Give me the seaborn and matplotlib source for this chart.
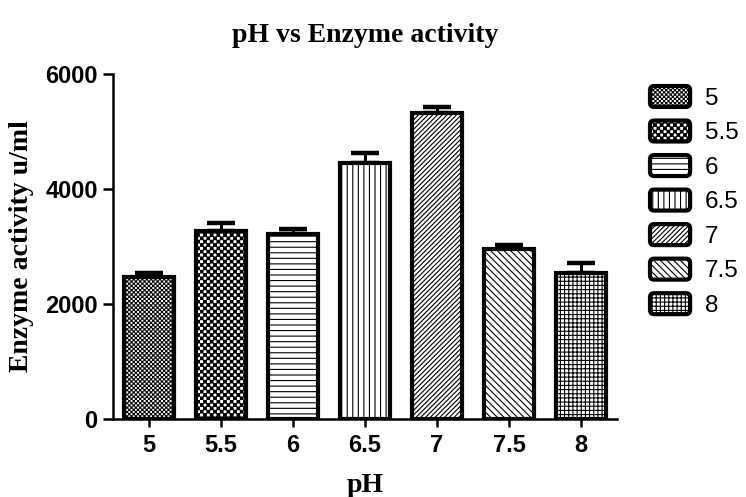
import warnings
warnings.simplefilter("ignore")
import numpy as np
import matplotlib
matplotlib.use("Agg")
import matplotlib.pyplot as plt
import matplotlib.hatch as mhatch
from matplotlib.path import Path
from matplotlib.patches import FancyBboxPatch, Rectangle
from matplotlib.legend_handler import HandlerPatch
from matplotlib.font_manager import FontProperties
import seaborn as sns

# ---- data ----
ph_labels = ["5", "5.5", "6", "6.5", "7", "7.5", "8"]
activity = [2470, 3270, 3215, 4450, 5320, 2955, 2540]
activity_err = [70, 140, 85, 175, 100, 70, 170]
y_ticks = [0, 2000, 4000, 6000]
hatches = ["k", "c", "---", "|||", "///////", "\\\\\\\\\\", "++++"]


# ---- custom checkerboard hatch ('c' coarse, 'k' fine) ----
class _Checker(mhatch.HatchPatternBase):
    def __init__(self, hatch, density):
        self.n = 0
        self.e = 0.0035
        if "c" in hatch:
            self.n = 30
        elif "k" in hatch:
            self.n = 46
            self.e = 0.0045
        self.num_vertices = (self.n * self.n // 2) * 5

    def set_vertices_and_codes(self, vertices, codes):
        n = self.n
        s = 1.0 / n
        e = self.e
        k = 0
        for i in range(n):
            for j in range(n):
                if (i + j) % 2 == 0:
                    x0, y0 = i * s + e, j * s + e
                    x1, y1 = (i + 1) * s - e, (j + 1) * s - e
                    vertices[k:k + 5] = [(x0, y0), (x1, y0), (x1, y1), (x0, y1), (x0, y0)]
                    codes[k:k + 5] = [Path.MOVETO, Path.LINETO, Path.LINETO,
                                      Path.LINETO, Path.CLOSEPOLY]
                    k += 5


mhatch._hatch_types.append(_Checker)

sns.set_style("ticks")
plt.rcParams["hatch.linewidth"] = 0.8
plt.rcParams["font.family"] = ["Liberation Sans", "DejaVu Sans"]
plt.rcParams["text.color"] = "black"
plt.rcParams["axes.labelcolor"] = "black"
plt.rcParams["axes.titlecolor"] = "black"

fig = plt.figure(figsize=(7.46, 4.97), dpi=100)
ax = fig.add_axes([113 / 746, 78 / 497, 504 / 746, 345 / 497])

sns.barplot(x=ph_labels, y=activity, color="white", saturation=1,
            edgecolor="black", linewidth=3, width=0.70, ax=ax, zorder=3)

bars = ax.patches[:len(ph_labels)]
for p, h in zip(bars, hatches):
    p.set_hatch(h)
    p.set_facecolor("white")
    p.set_edgecolor("black")

xpos = [p.get_x() + p.get_width() / 2 for p in bars]
ax.errorbar(xpos, activity, yerr=[np.zeros(len(activity)), activity_err],
            fmt="none", ecolor="black", elinewidth=2.2, capsize=10, capthick=3.2,
            zorder=2)

ax.set_xlim(-0.5, 6.5)
ax.set_ylim(0, 6000)
ax.set_yticks(y_ticks)
sns.despine(ax=ax)
for s in ["left", "bottom"]:
    ax.spines[s].set_linewidth(1.8)
    ax.spines[s].set_color("black")

tick_fp = FontProperties(family=["Liberation Sans"], weight="bold", size=17)
ax.tick_params(axis="y", length=7, width=1.8, pad=4, colors="black")
ax.tick_params(axis="x", length=6, width=1.8, pad=5, colors="black")
for lab in ax.get_xticklabels() + ax.get_yticklabels():
    lab.set_fontproperties(tick_fp)

serif = dict(family="Liberation Serif", weight="bold", size=20, color="black")
ax.set_xlabel("pH", labelpad=11, **serif)
ax.set_ylabel("Enzyme activity u/ml", labelpad=8, **serif)
ax.set_title("pH vs Enzyme activity", pad=23, **serif)


def _round_patch(legend, orig_handle, xdescent, ydescent, width, height, fontsize):
    return FancyBboxPatch((-xdescent + 2, -ydescent + 2), width - 4, height - 4,
                          boxstyle="round,pad=2,rounding_size=3")


leg = ax.legend(bars, ph_labels, loc="upper left",
                bbox_to_anchor=(650 / 746, 1 - 86 / 497),
                bbox_transform=fig.transFigure, frameon=False,
                fontsize=17.5, handlelength=1.65, handleheight=0.95,
                handletextpad=0.6, labelspacing=0.44, borderpad=0,
                borderaxespad=0, labelcolor="black",
                handler_map={Rectangle: HandlerPatch(patch_func=_round_patch)})

fig.savefig("out.png", dpi=100)
